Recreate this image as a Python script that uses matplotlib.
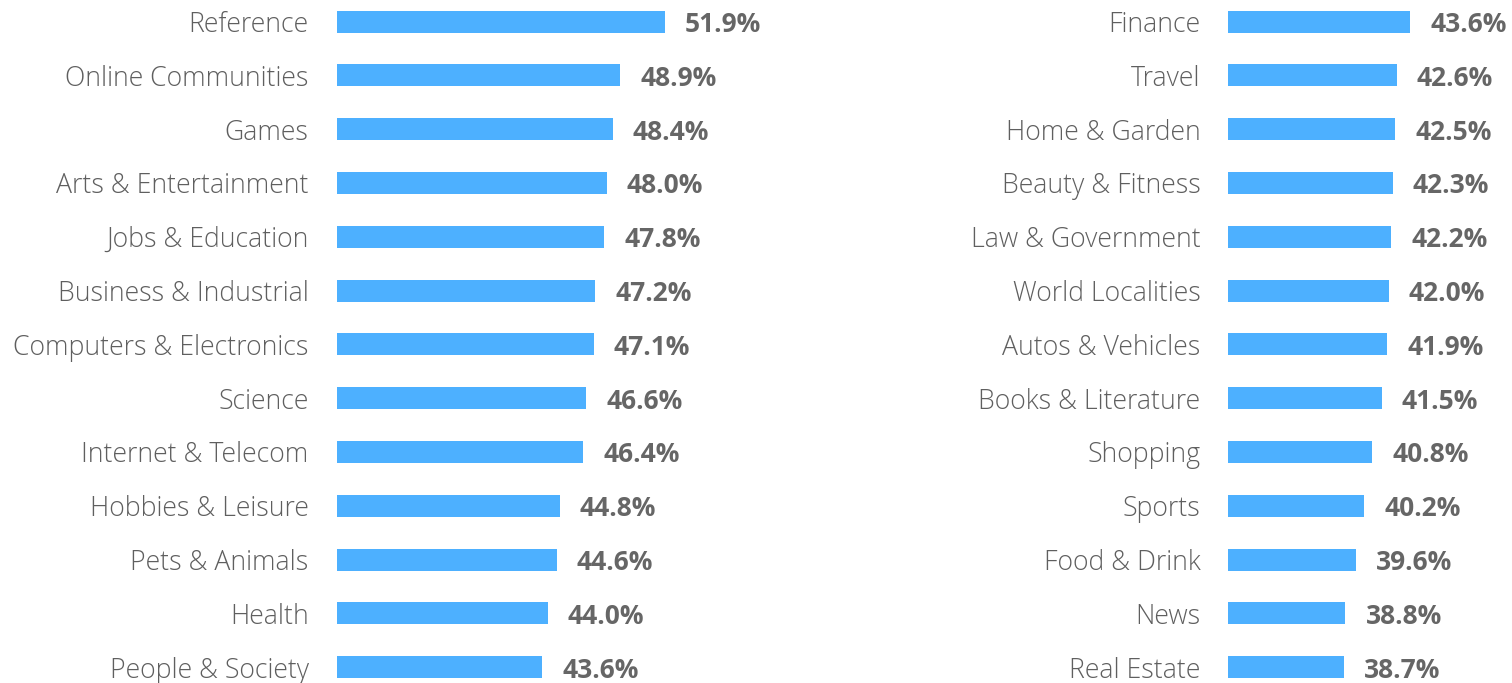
import matplotlib.pyplot as plt

left_cats = ["Reference", "Online Communities", "Games", "Arts & Entertainment",
             "Jobs & Education", "Business & Industrial", "Computers & Electronics",
             "Science", "Internet & Telecom", "Hobbies & Leisure", "Pets & Animals",
             "Health", "People & Society"]
left_vals = [51.9, 48.9, 48.4, 48.0, 47.8, 47.2, 47.1, 46.6, 46.4, 44.8, 44.6, 44.0, 43.6]

right_cats = ["Finance", "Travel", "Home & Garden", "Beauty & Fitness",
              "Law & Government", "World Localities", "Autos & Vehicles",
              "Books & Literature", "Shopping", "Sports", "Food & Drink",
              "News", "Real Estate"]
right_vals = [43.6, 42.6, 42.5, 42.3, 42.2, 42.0, 41.9, 41.5, 40.8, 40.2, 39.6, 38.8, 38.7]

W, H = 1512, 683
bar_color = "#4db0ff"
label_color = "#5f5f5f"
value_color = "#666666"
plt.rcParams['font.family'] = ['Open Sans', 'DejaVu Sans']

fig = plt.figure(figsize=(W / 100, H / 100), dpi=100)

# row layout in pixels
row0, step = 21.5, 53.8


def panel(x0_px, width_px, xstart, px_per_unit, cats, vals):
    ax = fig.add_axes([x0_px / W, 0, width_px / W, 1])
    ax.set_xlim(xstart, xstart + width_px / px_per_unit)
    ax.set_ylim((H - row0) / step, -row0 / step)
    ys = range(len(cats))
    ax.barh(ys, [v - xstart for v in vals], left=xstart, height=22 / step,
            color=bar_color)
    gap = 20 / px_per_unit
    lgap = 28 / px_per_unit
    for y, c, v in zip(ys, cats, vals):
        ax.text(v + gap, y, f"{v:.1f}%", ha="left", va="center_baseline",
                fontsize=19, fontweight="bold", color=value_color)
        ax.text(xstart - lgap, y, c, ha="right", va="center_baseline",
                fontsize=19.2, fontweight="light", color=label_color, clip_on=False)
    ax.axis("off")
    return ax


panel(336.7, 420, 29.7, 14.77, left_cats, left_vals)
panel(1228.3, 280, 30.1, 13.47, right_cats, right_vals)

fig.savefig("out.png", dpi=100)
